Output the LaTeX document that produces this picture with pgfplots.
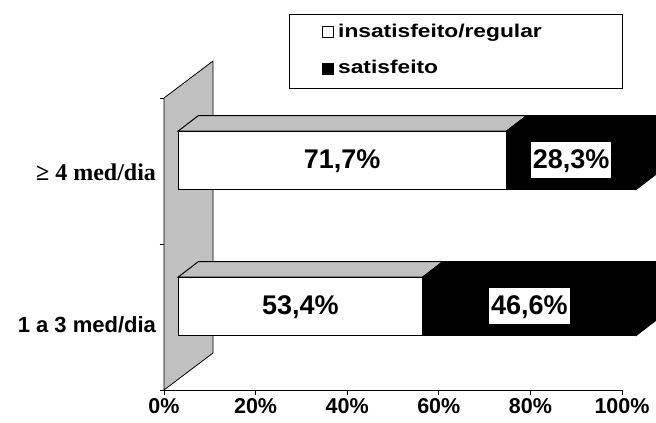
\documentclass[border=0pt]{standalone}
\usepackage{fontspec}
\setmainfont{Liberation Sans}
\newfontfamily\serifbold{Liberation Serif}
\usepackage{graphicx}
\usepackage{pgfplots}
\usepackage{pgfplotstable}
\pgfplotsset{compat=1.18}
\definecolor{prata}{RGB}{192,192,192}
\newcommand\leg[1]{\scalebox{1.23}[1]{#1}}

% corners of a bar face: s = start/end of the segment, t = bottom/top, d = front/back
\pgfplotstableread{
s t d
0 0 0
1 0 0
1 1 0
0 1 0
}\frente
\pgfplotstableread{
s t d
0 1 0
1 1 0
1 1 1
0 1 1
}\topo
\pgfplotstableread{
s t d
1 0 0
1 0 1
1 1 1
1 1 0
}\lado
\pgfplotstableread{
s t d
0 0 0
}\ponto

% depth geometry in axis units (x in %, y in category units)
\def\frx{3.057}\def\fry{0.0726}  % front plane of the bars
\def\prx{4.476}\def\pry{0.1075}  % bar depth
\def\meia{0.2}                   % half bar thickness

\newcommand\face[5]{% style, face, from, to, category
  \addplot[#1, forget plot] table[
    x expr={\frx+(1-\thisrow{s})*(#3)+\thisrow{s}*(#4)+\thisrow{d}*\prx},
    y expr={#5+\fry+(2*\thisrow{t}-1)*\meia+\thisrow{d}*\pry}] {#2} -- cycle;
}
\newcommand\rotulo[3]{% category, start, value
  \addplot[draw=none, forget plot, point meta={#3},
    nodes near coords={\pgfmathprintnumber[fixed,fixed zerofill,precision=1,use comma,assume math mode=true]{\pgfplotspointmeta}\%},
    every node near coord/.append style={anchor=center, fill=white, inner xsep=2pt,
      inner ysep=6pt, text height=20pt, text depth=4pt, text=black,
      font=\bfseries\fontsize{27}{30}\selectfont}]
    table[x expr={\frx+(#2)+(#3)/2}, y expr={#1+\fry}] {\ponto};
}
\newcommand\barra[3]{% category, insatisfeito/regular, satisfeito
  \face{fill=prata, draw=black}{\topo}{0}{#2}{#1}
  \face{fill=black, draw=black}{\topo}{#2}{#2+#3}{#1}
  \face{fill=black, draw=black}{\lado}{#2}{#2+#3}{#1}
  \face{fill=white, draw=black}{\frente}{0}{#2}{#1}
  \face{fill=black, draw=black}{\frente}{#2}{#2+#3}{#1}
  \rotulo{#1}{0}{#2}
  \rotulo{#1}{#2}{#3}
}

\begin{document}
\begin{tikzpicture}
\useasboundingbox (0,0) rectangle (656pt,423pt);
\begin{axis}[
  at={(164pt,33pt)}, anchor=south west,
  scale only axis, width=458pt, height=292pt,
  xmin=0, xmax=100, ymin=0, ymax=2,
  clip=false,
  axis x line*=bottom, axis y line*=left,
  axis line style={line width=0.8pt},
  every axis plot/.append style={line width=1pt},
  tick style={line width=0.8pt, black},
  tick align=outside, major tick length=4.5pt,
  xtick={0,20,...,100},
  xticklabels={0\%,20\%,40\%,60\%,80\%,100\%},
  xticklabel style={font=\bfseries\fontsize{21.5}{24}\selectfont},
  ytick={0,1,2}, yticklabels={},
  extra y ticks={0.445,1.49},
  extra y tick labels={1 a 3 med/dia\hspace{7pt}, {\serifbold\fontsize{24}{26}\selectfont ≥ 4 med/dia}},
  extra y tick style={tick style={draw=none}},
  yticklabel style={font=\bfseries\fontsize{22}{24}\selectfont},
]
% side wall
\addplot[fill=prata, draw=black, line width=0.8pt, forget plot]
  coordinates {(0,0) (10.70,0.2534) (10.70,2.2534) (0,2)} -- cycle;

\barra{0.5}{53.4}{46.6}
\barra{1.5}{71.7}{28.3}

% legend box
\draw[line width=0.8pt, fill=white] (rel axis cs:0.2729,1.2877) rectangle (rel axis cs:1.0,1.0342);
\draw[line width=0.8pt, fill=white] (rel axis cs:0.3461,1.2449) rectangle (rel axis cs:0.3701,1.2072);
\draw[line width=0.8pt, fill=black] (rel axis cs:0.3461,1.1199) rectangle (rel axis cs:0.3701,1.0822);
\node[anchor=base west, inner sep=0pt, font=\bfseries\fontsize{18.5}{20}\selectfont]
  at (rel axis cs:0.3799,1.2072) {\leg{insatisfeito/regular}};
\node[anchor=base west, inner sep=0pt, font=\bfseries\fontsize{18.5}{20}\selectfont]
  at (rel axis cs:0.3799,1.0822) {\leg{satisfeito}};
\end{axis}
\end{tikzpicture}
\end{document}
